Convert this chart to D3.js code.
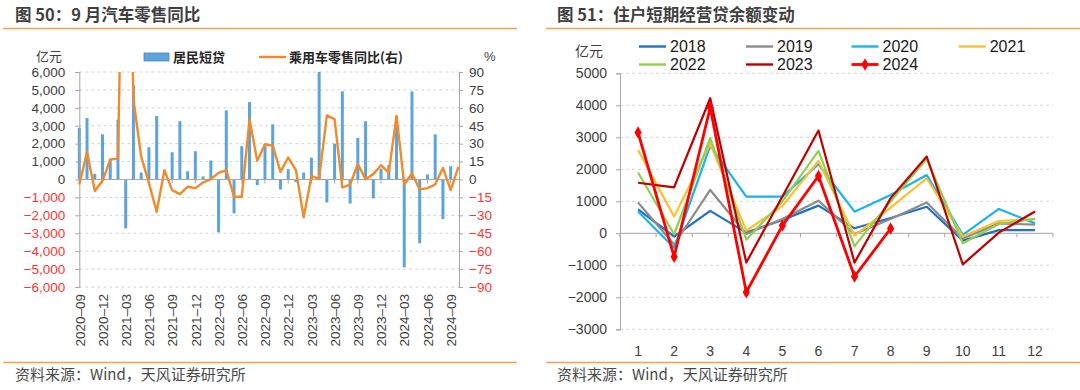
<!DOCTYPE html>
<html><head><meta charset="utf-8">
<script src="https://cdn.jsdelivr.net/npm/d3@7"></script>
<style>
body{margin:0;background:#fff;}
svg{display:block;font-family:"Liberation Sans",Arial,"Noto Sans CJK SC",sans-serif;}
</style></head><body>
<svg id="c" width="1080" height="390"></svg>
<script>
// ---------- Left chart data ----------
const months = ["2020-09","2020-10","2020-11","2020-12","2021-01","2021-02","2021-03","2021-04","2021-05","2021-06","2021-07","2021-08",
"2021-09","2021-10","2021-11","2021-12","2022-01","2022-02","2022-03","2022-04","2022-05","2022-06","2022-07","2022-08",
"2022-09","2022-10","2022-11","2022-12","2023-01","2023-02","2023-03","2023-04","2023-05","2023-06","2023-07","2023-08",
"2023-09","2023-10","2023-11","2023-12","2024-01","2024-02","2024-03","2024-04","2024-05","2024-06","2024-07","2024-08",
"2024-09","2024-10"];
const monthTickLabels = ["2020–09","2020–12","2021–03","2021–06","2021–09","2021–12","2022–03","2022–06","2022–09","2022–12","2023–03","2023–06","2023–09","2023–12","2024–03","2024–06","2024–09"];
const shortLoans = [2880,3430,315,2520,1130,3340,-2730,5250,390,1800,3540,30,1520,3250,460,1580,170,1060,-2950,3860,-1890,1860,4320,-315,
1950,3080,-560,575,-150,390,1220,6000,-1280,2000,4920,-1340,2320,3250,-1060,610,800,3540,-4900,4920,-3560,280,2520,-2210,740];
const carYoY = [-4.2,23.1,-9.7,-1.1,16.7,17.5,366,67,19.2,-3.0,-27.0,7.8,-8.9,-12.2,-6.1,-7.2,-2.5,0.3,5.6,7.8,-14.5,-14.5,50.4,15.6,
29.5,28.4,6.4,18.4,7.8,-31.7,2.8,0.8,53.7,50.4,-6.7,-4.2,12.8,0.3,4.5,12.0,5.6,53.2,-4.2,5.0,-8.3,-7.2,-4.2,9.7,-8.9,10.6];
const leftTicks = [6000,5000,4000,3000,2000,1000,0,-1000,-2000,-3000,-4000,-5000,-6000];
const rightTicks = [90,75,60,45,30,15,0,-15,-30,-45,-60,-75,-90];

// ---------- Right chart data ----------
const monthNums = [1,2,3,4,5,6,7,8,9,10,11,12];
const years = ["2018","2019","2020","2021","2022","2023","2024"];
const v2018 = [750,-100,700,20,420,865,156,480,830,-230,100,100];
const v2019 = [960,-350,1355,-20,450,1020,-20,450,960,-160,310,270];
const v2020 = [680,-450,2730,1146,1146,2157,677,1200,1820,-50,760,310];
const v2021 = [2600,521,2800,80,850,2260,-70,800,1720,-100,385,440];
const v2022 = [1900,-30,2970,-200,1000,2574,-400,1000,2330,-310,290,450];
const v2023 = [1580,1438,4220,-915,1150,3210,-915,1100,2400,-970,20,680];
const v2024 = [3150,-730,3930,-1840,240,1790,-1350,150];
const opTicks = [5000,4000,3000,2000,1000,0,-1000,-2000,-3000];
const yearColors = ["#1f72c4","#8c8c8c","#19b3ee","#fdbf2d","#92cf50","#c00000","#ff0000"];

const fmt = d3.format(",");
const svg = d3.select("#c");
const ORANGE = "#f4a14e";
const DARK = "#404040";
const RED = "#ff3535";
const CJK = "'Noto Sans CJK SC',sans-serif";

// ---------- Titles & frame lines ----------
function header(x0, x1, tx, title){
  svg.append("text").attr("x",tx).attr("y",21).attr("font-family",CJK).attr("font-size",16.5)
    .attr("font-weight","bold").attr("fill","#3f3f3f").text(title);
  svg.append("line").attr("x1",x0).attr("x2",x1).attr("y1",28.5).attr("y2",28.5).attr("stroke",ORANGE).attr("stroke-width",1.6);
  svg.append("line").attr("x1",x0).attr("x2",x1).attr("y1",362.5).attr("y2",362.5).attr("stroke",ORANGE).attr("stroke-width",1.6);
  svg.append("text").attr("x",tx).attr("y",380).attr("font-family",CJK).attr("font-size",15)
    .attr("fill","#4a4a4a").text("资料来源：Wind，天风证券研究所");
}
header(3,517,15,"图 50：9 月汽车零售同比");
header(546,1080,557,"图 51：住户短期经营贷余额变动");

// ---------- Left chart ----------
const L = {x0:79.3, x1:458.4, yT:72, yB:287};
const xL = d3.scalePoint().domain(months).range([L.x0, L.x1]);
const yL = d3.scaleLinear().domain([-6000,6000]).range([L.yB, L.yT]);
const yR = d3.scaleLinear().domain([-90,90]).range([L.yB, L.yT]);
const gl = svg.append("g");

// grid
gl.selectAll("line.grid").data(leftTicks.filter(d=>d!==0)).join("line")
  .attr("x1",L.x0).attr("x2",459).attr("y1",d=>yL(d)).attr("y2",d=>yL(d))
  .attr("stroke","#d4d4d4").attr("stroke-dasharray","3,3");

// bars
gl.selectAll("rect.bar").data(shortLoans).join("rect")
  .attr("x",(d,i)=>xL(months[i])-1.5).attr("width",3)
  .attr("y",d=>Math.min(yL(d),yL(0))).attr("height",d=>Math.abs(yL(d)-yL(0)))
  .attr("fill","#5da4dc");

// axes
const axisLeft = d3.axisLeft(yL).tickValues(leftTicks).tickSize(4).tickFormat(d=>d<0?"−"+fmt(-d):fmt(d));
const gAxL = gl.append("g").attr("transform",`translate(${L.x0},0)`).call(axisLeft);
gAxL.select(".domain").attr("stroke","#a6a6a6");
gAxL.selectAll(".tick line").attr("stroke","#a6a6a6");
gAxL.selectAll(".tick text").attr("x",-14).attr("font-size",13.5).attr("font-family","'Liberation Sans',Arial")
  .attr("fill",d=>d<0?RED:DARK);

const axisRight = d3.axisRight(yR).tickValues(rightTicks).tickSize(4).tickFormat(d=>d<0?"−"+Math.abs(d):d);
const gAxR = gl.append("g").attr("transform",`translate(459,0)`).call(axisRight);
gAxR.select(".domain").attr("stroke","#a6a6a6");
gAxR.selectAll(".tick line").attr("stroke","#a6a6a6");
gAxR.selectAll(".tick text").attr("x",10).attr("font-size",13.5).attr("font-family","'Liberation Sans',Arial")
  .attr("fill",d=>d<0?RED:DARK);

// zero axis with category ticks
const tickMonths = months.filter((m,i)=>i%3===0 && i<49);
gl.append("line").attr("x1",L.x0).attr("x2",459).attr("y1",yL(0)).attr("y2",yL(0)).attr("stroke","#a6a6a6");
gl.selectAll("line.ct").data(tickMonths).join("line")
  .attr("x1",d=>xL(d)).attr("x2",d=>xL(d)).attr("y1",yL(0)).attr("y2",yL(0)+4).attr("stroke","#a6a6a6");

// x labels (rotated)
gl.selectAll("text.xl").data(tickMonths).join("text")
  .attr("transform",d=>`translate(${xL(d)+0.7},294) rotate(-90)`)
  .attr("text-anchor","end").attr("dominant-baseline","central")
  .attr("font-size",13.5).attr("fill",DARK).text((d,i)=>monthTickLabels[i]);

// orange line
svg.append("clipPath").attr("id","clipL").append("rect").attr("x",L.x0-2).attr("y",L.yT).attr("width",L.x1-L.x0+4).attr("height",L.yB-L.yT);
gl.append("path").datum(carYoY).attr("clip-path","url(#clipL)")
  .attr("d",d3.line().x((d,i)=>xL(months[i])).y(d=>yR(d)))
  .attr("fill","none").attr("stroke","#f28a2b").attr("stroke-width",2.4).attr("stroke-linejoin","round");

// units & legend
gl.append("text").attr("x",36).attr("y",61).attr("font-family",CJK).attr("font-size",13).attr("fill",DARK).text("亿元");
gl.append("text").attr("x",484).attr("y",61).attr("font-size",13).attr("fill",DARK).text("%");
gl.append("rect").attr("x",144).attr("y",53).attr("width",25).attr("height",8).attr("fill","#5da4dc").attr("stroke","#3f88c8").attr("stroke-width",0.8);
gl.append("text").attr("x",173).attr("y",62).attr("font-family",CJK).attr("font-size",13).attr("font-weight","bold").attr("fill","#262626").text("居民短贷");
gl.append("line").attr("x1",259).attr("x2",286).attr("y1",57).attr("y2",57).attr("stroke","#f28a2b").attr("stroke-width",2.4);
gl.append("text").attr("x",289).attr("y",62).attr("font-family",CJK).attr("font-size",13).attr("font-weight","bold").attr("fill","#262626").text("乘用车零售同比(右)");

// ---------- Right chart ----------
const R = {x0:620, x1:1053, yT:73.3, yB:329.3};
const xB = d3.scaleBand().domain(monthNums).range([R.x0, R.x1]);
const yB = d3.scaleLinear().domain([-3000,5000]).range([R.yB, R.yT]);
const gr = svg.append("g");

gr.selectAll("line.grid").data(opTicks.filter(d=>d!==0)).join("line")
  .attr("x1",R.x0).attr("x2",R.x1).attr("y1",d=>yB(d)).attr("y2",d=>yB(d))
  .attr("stroke","#d4d4d4").attr("stroke-dasharray","3,3");

const gAy = gr.append("g").attr("transform",`translate(${R.x0},0)`)
  .call(d3.axisLeft(yB).tickValues(opTicks).tickSize(4).tickFormat(d=>d<0?"−"+Math.abs(d):d));
gAy.select(".domain").attr("stroke","#a6a6a6");
gAy.selectAll(".tick line").attr("stroke","#a6a6a6");
gAy.selectAll(".tick text").attr("x",-13).attr("font-size",14).attr("font-family","'Liberation Sans',Arial").attr("fill",DARK);

// zero axis with boundary ticks
gr.append("line").attr("x1",R.x0).attr("x2",R.x1).attr("y1",yB(0)).attr("y2",yB(0)).attr("stroke","#a6a6a6");
const bounds = monthNums.map(m=>xB(m)).concat([R.x1]);
gr.selectAll("line.bt").data(bounds).join("line")
  .attr("x1",d=>d).attr("x2",d=>d).attr("y1",yB(0)).attr("y2",yB(0)+4).attr("stroke","#a6a6a6");
gr.selectAll("text.xl").data(monthNums).join("text")
  .attr("x",d=>xB(d)+xB.bandwidth()/2).attr("y",356).attr("text-anchor","middle")
  .attr("font-size",14).attr("fill",DARK).text(d=>d);

const series = [v2018,v2019,v2020,v2021,v2022,v2023,v2024];
const lineGen = d3.line().x((d,i)=>xB(monthNums[i])+xB.bandwidth()/2).y(d=>yB(d));
series.forEach((s,k)=>{
  gr.append("path").datum(s).attr("d",lineGen).attr("fill","none")
    .attr("stroke",yearColors[k]).attr("stroke-width",k===6?2.8:2.2).attr("stroke-linejoin","round");
});
gr.selectAll("path.mk").data(v2024).join("path")
  .attr("transform",(d,i)=>`translate(${xB(monthNums[i])+xB.bandwidth()/2},${yB(d)})`)
  .attr("d",d3.symbol(d3.symbolDiamond,45)).attr("fill","#ff0000");

// unit & legend
gr.append("text").attr("x",575).attr("y",56).attr("font-family",CJK).attr("font-size",14).attr("fill",DARK).text("亿元");
const legX = [639,746,851.5,958.7];
years.forEach((y,k)=>{
  const cx = legX[k%4], cy = k<4?46.5:64.5;
  gr.append("line").attr("x1",cx).attr("x2",cx+27).attr("y1",cy).attr("y2",cy).attr("stroke",yearColors[k]).attr("stroke-width",k===6?2.8:2.4);
  if(k===6) gr.append("path").attr("transform",`translate(${cx+13.5},${cy})`).attr("d",d3.symbol(d3.symbolDiamond,45)).attr("fill","#ff0000");
  gr.append("text").attr("x",cx+31).attr("y",cy+5.5).attr("font-size",16).attr("fill","#1a1a1a").text(y);
});
</script>
</body></html>
